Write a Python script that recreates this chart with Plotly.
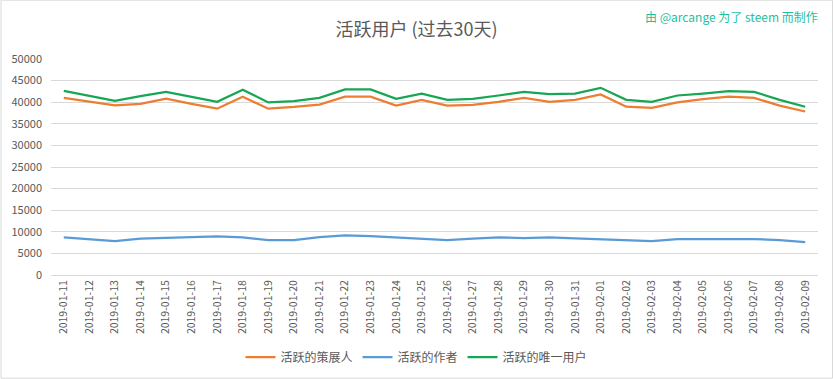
import plotly.graph_objects as go

dates = ["2019-01-11","2019-01-12","2019-01-13","2019-01-14","2019-01-15","2019-01-16","2019-01-17","2019-01-18","2019-01-19","2019-01-20",
         "2019-01-21","2019-01-22","2019-01-23","2019-01-24","2019-01-25","2019-01-26","2019-01-27","2019-01-28","2019-01-29","2019-01-30",
         "2019-01-31","2019-02-01","2019-02-02","2019-02-03","2019-02-04","2019-02-05","2019-02-06","2019-02-07","2019-02-08","2019-02-09"]

curators = [41000, 40100, 39250, 39600, 40800, 39600, 38500, 41250, 38500, 38900,
            39450, 41300, 41300, 39200, 40550, 39200, 39400, 40100, 41000, 40100,
            40550, 41800, 38950, 38700, 39950, 40700, 41300, 41000, 39200, 37850]

authors = [8700, 8300, 7870, 8420, 8500, 8750, 8930, 8700, 8100, 8100,
           8750, 9150, 9000, 8700, 8480, 8100, 8400, 8700, 8550, 8700,
           8480, 8250, 8030, 7870, 8320, 8320, 8320, 8320, 8100, 7600]

unique_users = [42640, 41400, 40300, 41400, 42400, 41250, 40100, 42870, 39950, 40250,
                41000, 42950, 42950, 40800, 42000, 40550, 40750, 41550, 42400, 41850,
                42000, 43330, 40550, 40100, 41550, 42000, 42550, 42400, 40550, 38950]

y_ticks = [0, 5000, 10000, 15000, 20000, 25000, 30000, 35000, 40000, 45000, 50000]

names = ["活跃的策展人", "活跃的作者", "活跃的唯一用户"]
colors = ["#ED7D31", "#5B9BD5", "#17A653"]

FONT = "Noto Sans CJK SC, Microsoft YaHei, sans-serif"

W, H = 833, 379
ML, MR, MT, MB = 50.5, 15, 59.3, 103.7
PW, PH = W - ML - MR, H - MT - MB

fig = go.Figure()
for name, vals, col in zip(names, [curators, authors, unique_users], colors):
    fig.add_trace(go.Scatter(x=dates, y=vals, name=name, mode="lines",
                             line=dict(color=col, width=2.25)))

fig.update_layout(
    width=W, height=H,
    margin=dict(l=ML, r=MR, t=MT, b=MB, autoexpand=False),
    paper_bgcolor="white", plot_bgcolor="white",
    font=dict(family=FONT, color="#595959", size=11),
    title=dict(text="活跃用户 (过去30天)", x=0.5, xanchor="center", xref="container",
               y=1 - 30 / 379, yanchor="middle", yref="container", automargin=False,
               font=dict(size=18, color="#595959", family=FONT)),
    showlegend=True,
    legend=dict(orientation="h", x=0.5, xanchor="center", xref="container",
                y=1 - 357 / 379, yanchor="middle", yref="container",
                font=dict(size=12, color="#595959"), itemwidth=30, traceorder="normal"),
    xaxis=dict(type="category", tickangle=-90, tickfont=dict(size=10.5, color="#595959"),
               showgrid=False, showline=True, linecolor="#D9D9D9", linewidth=1,
               ticks="", range=[-0.5, len(dates) - 0.5], automargin=False),
    yaxis=dict(range=[0, 50000], tickvals=y_ticks, ticktext=[str(v) for v in y_ticks],
               showgrid=True, gridcolor="#D9D9D9", gridwidth=1, zeroline=False,
               tickfont=dict(size=11, color="#595959"), ticks="", ticklabelstandoff=8,
               automargin=False),
    annotations=[dict(text="由 @arcange 为了 steem 而制作", xref="paper", yref="paper",
                      x=(W - 13 - ML) / PW, y=1 + (MT - 17) / PH, xanchor="right", yanchor="middle",
                      showarrow=False, font=dict(size=12, color="#1DBF9F", family=FONT))],
    shapes=[dict(type="rect", xref="paper", yref="paper",
                 x0=(0.5 - ML) / PW, x1=(W - 0.5 - ML) / PW,
                 y0=-(MB - 0.5) / PH, y1=1 + (MT - 0.5) / PH,
                 line=dict(color="#D9D9D9", width=1), fillcolor="rgba(0,0,0,0)")],
)

fig.write_html("out.html", config={"displayModeBar": False},
               post_script="document.body.style.margin='0';document.body.style.overflow='hidden';")
